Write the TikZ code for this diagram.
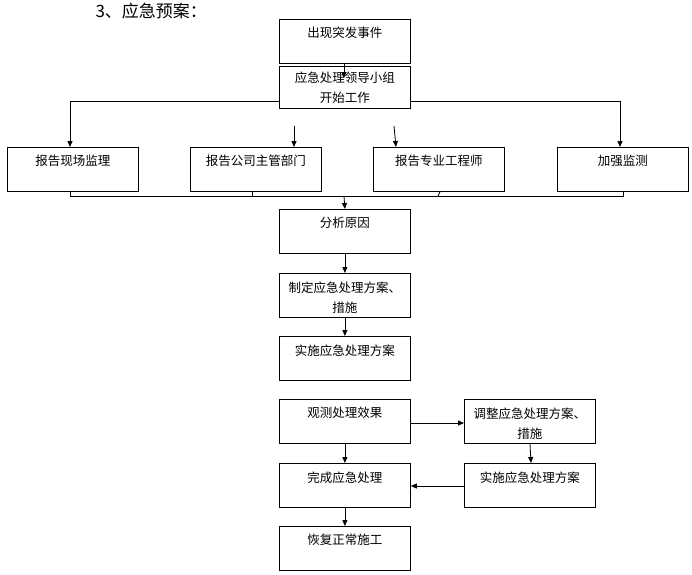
\documentclass[tikz,border=0pt]{standalone}
\usepackage{fontspec}
\setmainfont{Noto Sans CJK SC}
\usetikzlibrary{arrows.meta}

\tikzset{
  box/.style={draw, line width=0.8pt, inner sep=2pt, anchor=north west,
    font=\fontsize{12.5}{20}\selectfont},
  link/.style={line width=0.8pt},
  flow/.style={line width=0.8pt, -{Triangle[length=6pt,width=5pt]}}
}
\newcommand{\celltext}[1]{\parbox[c][40pt][t]{127pt}{\centering\vspace*{6pt}#1}}

\begin{document}
\begin{tikzpicture}[x=1pt,y=1pt]
\useasboundingbox (0,0) rectangle (692,-574);

% title
\node[anchor=west, font=\fontsize{17}{20}\selectfont] (title) at (92,-11) {3、应急预案：};

% top boxes
\node[box] (event) at (279,-19) {\celltext{出现突发事件}};
\node[box, inner ysep=1pt] (leader) at (279,-66) {\parbox[c][40pt][t]{127pt}{\centering\vspace*{4pt}应急处理领导小组\\开始工作}};

% report row
\node[box] (site) at (7,-147) {\celltext{报告现场监理}};
\node[box] (company) at (190,-147) {\celltext{报告公司主管部门}};
\node[box] (engineer) at (373,-147) {\celltext{报告专业工程师}};
\node[box] (monitor) at (557,-147) {\celltext{加强监测}};

% main column
\node[box] (analyse) at (279,-209) {\celltext{分析原因}};
\node[box] (plan) at (279,-273) {\celltext{制定应急处理方案、\\措施}};
\node[box] (execute) at (279,-336) {\celltext{实施应急处理方案}};
\node[box] (observe) at (279,-399) {\celltext{观测处理效果}};
\node[box] (finish) at (279,-463) {\celltext{完成应急处理}};
\node[box] (resume) at (279,-526) {\celltext{恢复正常施工}};

% side column
\node[box] (adjust) at (464,-399) {\celltext{调整应急处理方案、\\措施}};
\node[box] (redo) at (464,-463) {\celltext{实施应急处理方案}};

% leader -> reports
\coordinate (tipA) at (344,-78);
\coordinate (splitL) at (279,-101);
\coordinate (splitR) at (410,-101);
\coordinate (midA) at (294,-126);
\coordinate (midB) at (394,-126);
\draw[flow] (event.south -| tipA) -- (tipA);
\draw[flow] (splitL) -| (site.north -| 70,0);
\draw[flow] (splitR) -| (monitor.north -| 620,0);
\draw[flow] (midA) -- (company.north -| midA);
\draw[flow] (midB) -- ([xshift=2pt]engineer.north -| midB);

% reports -> analyse
\coordinate (joinL) at (70,-196);
\coordinate (joinR) at (623,-196);
\coordinate (joinM) at (344,-196);
\draw[link] (site.south -| joinL) -- (joinL) -- (joinR) -- (monitor.south -| joinR);
\draw[link] (company.south -| 252,0) -- (252,-196);
\draw[link] ([xshift=1pt]engineer.south -| 439,0) -- (438,-196);
\draw[flow] (joinM) -- (analyse.north);

% main flow
\draw[flow] (analyse) -- (plan);
\draw[flow] (plan) -- (execute);
\draw[flow] (observe) -- (finish);
\draw[flow] (finish) -- (resume);
\draw[flow] (observe.east |- 0,-423) -- (adjust.west |- 0,-423);
\draw[flow] (adjust.south -| 530,0) -- (redo.north -| 531,0);
\draw[flow] (redo.west |- 0,-486) -- (finish.east |- 0,-486);

\end{tikzpicture}
\end{document}
